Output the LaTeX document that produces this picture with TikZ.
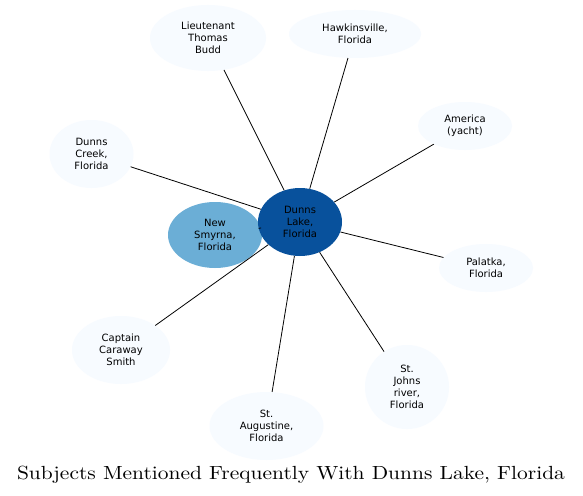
\documentclass[tikz,border=0pt]{standalone}
\usepackage{fontspec}
\newfontfamily\nodefont{DejaVu Sans}
\newfontfamily\titlefont[FakeStretch=1.13]{lmroman10-regular.otf}
\usetikzlibrary{shapes.geometric}
\definecolor{hub}{HTML}{08519C}
\definecolor{mid}{HTML}{6BAED6}
\definecolor{pale}{HTML}{F7FBFF}
\tikzset{
  ent/.style={ellipse, inner sep=0pt, fill=pale, align=center,
    font=\nodefont\fontsize{10}{12}\selectfont},
  link/.style={draw=black, line width=0.8pt}
}
\begin{document}
\begin{tikzpicture}[x=1pt,y=-1pt]
\useasboundingbox (0,0) rectangle (583,495);
\fill[white] (0,0) rectangle (583,495);
\node[ent, minimum width=116pt, minimum height=66pt] (ltb) at (208,38) {Lieutenant\\Thomas\\Budd};
\node[ent, minimum width=132pt, minimum height=48pt] (hk) at (355,34) {Hawkinsville,\\Florida};
\node[ent, minimum width=94pt, minimum height=48pt] (am) at (465,126) {America\\(yacht)};
\node[ent, minimum width=84pt, minimum height=68pt] (dc) at (91.5,154) {Dunns\\Creek,\\Florida};
\node[ent, minimum width=94pt, minimum height=48pt] (pa) at (486,268) {Palatka,\\Florida};
\node[ent, minimum width=98pt, minimum height=68pt] (cs) at (121,350) {Captain\\Caraway\\Smith};
\node[ent, minimum width=114pt, minimum height=68pt] (sa) at (266.5,426) {St.\\Augustine,\\Florida};
\node[ent, minimum width=84pt, minimum height=84pt] (sj) at (407,387) {St.\\Johns\\river,\\Florida};
\node[ent, fill=mid, minimum width=94pt, minimum height=66pt] (ns) at (215,235) {New\\Smyrna,\\Florida};
\node[ent, fill=hub, minimum width=84pt, minimum height=68pt] (dl) at (300,222) {Dunns\\Lake,\\Florida};
\foreach \t in {ltb,hk,am,dc,pa,cs,sa,sj,ns} {
  \draw[link] (dl) -- (\t);
}
\node[font=\titlefont\fontsize{19}{22}\selectfont, anchor=base, inner sep=0pt] (title) at (291,479) {Subjects Mentioned Frequently With Dunns Lake, Florida};
\end{tikzpicture}
\end{document}
